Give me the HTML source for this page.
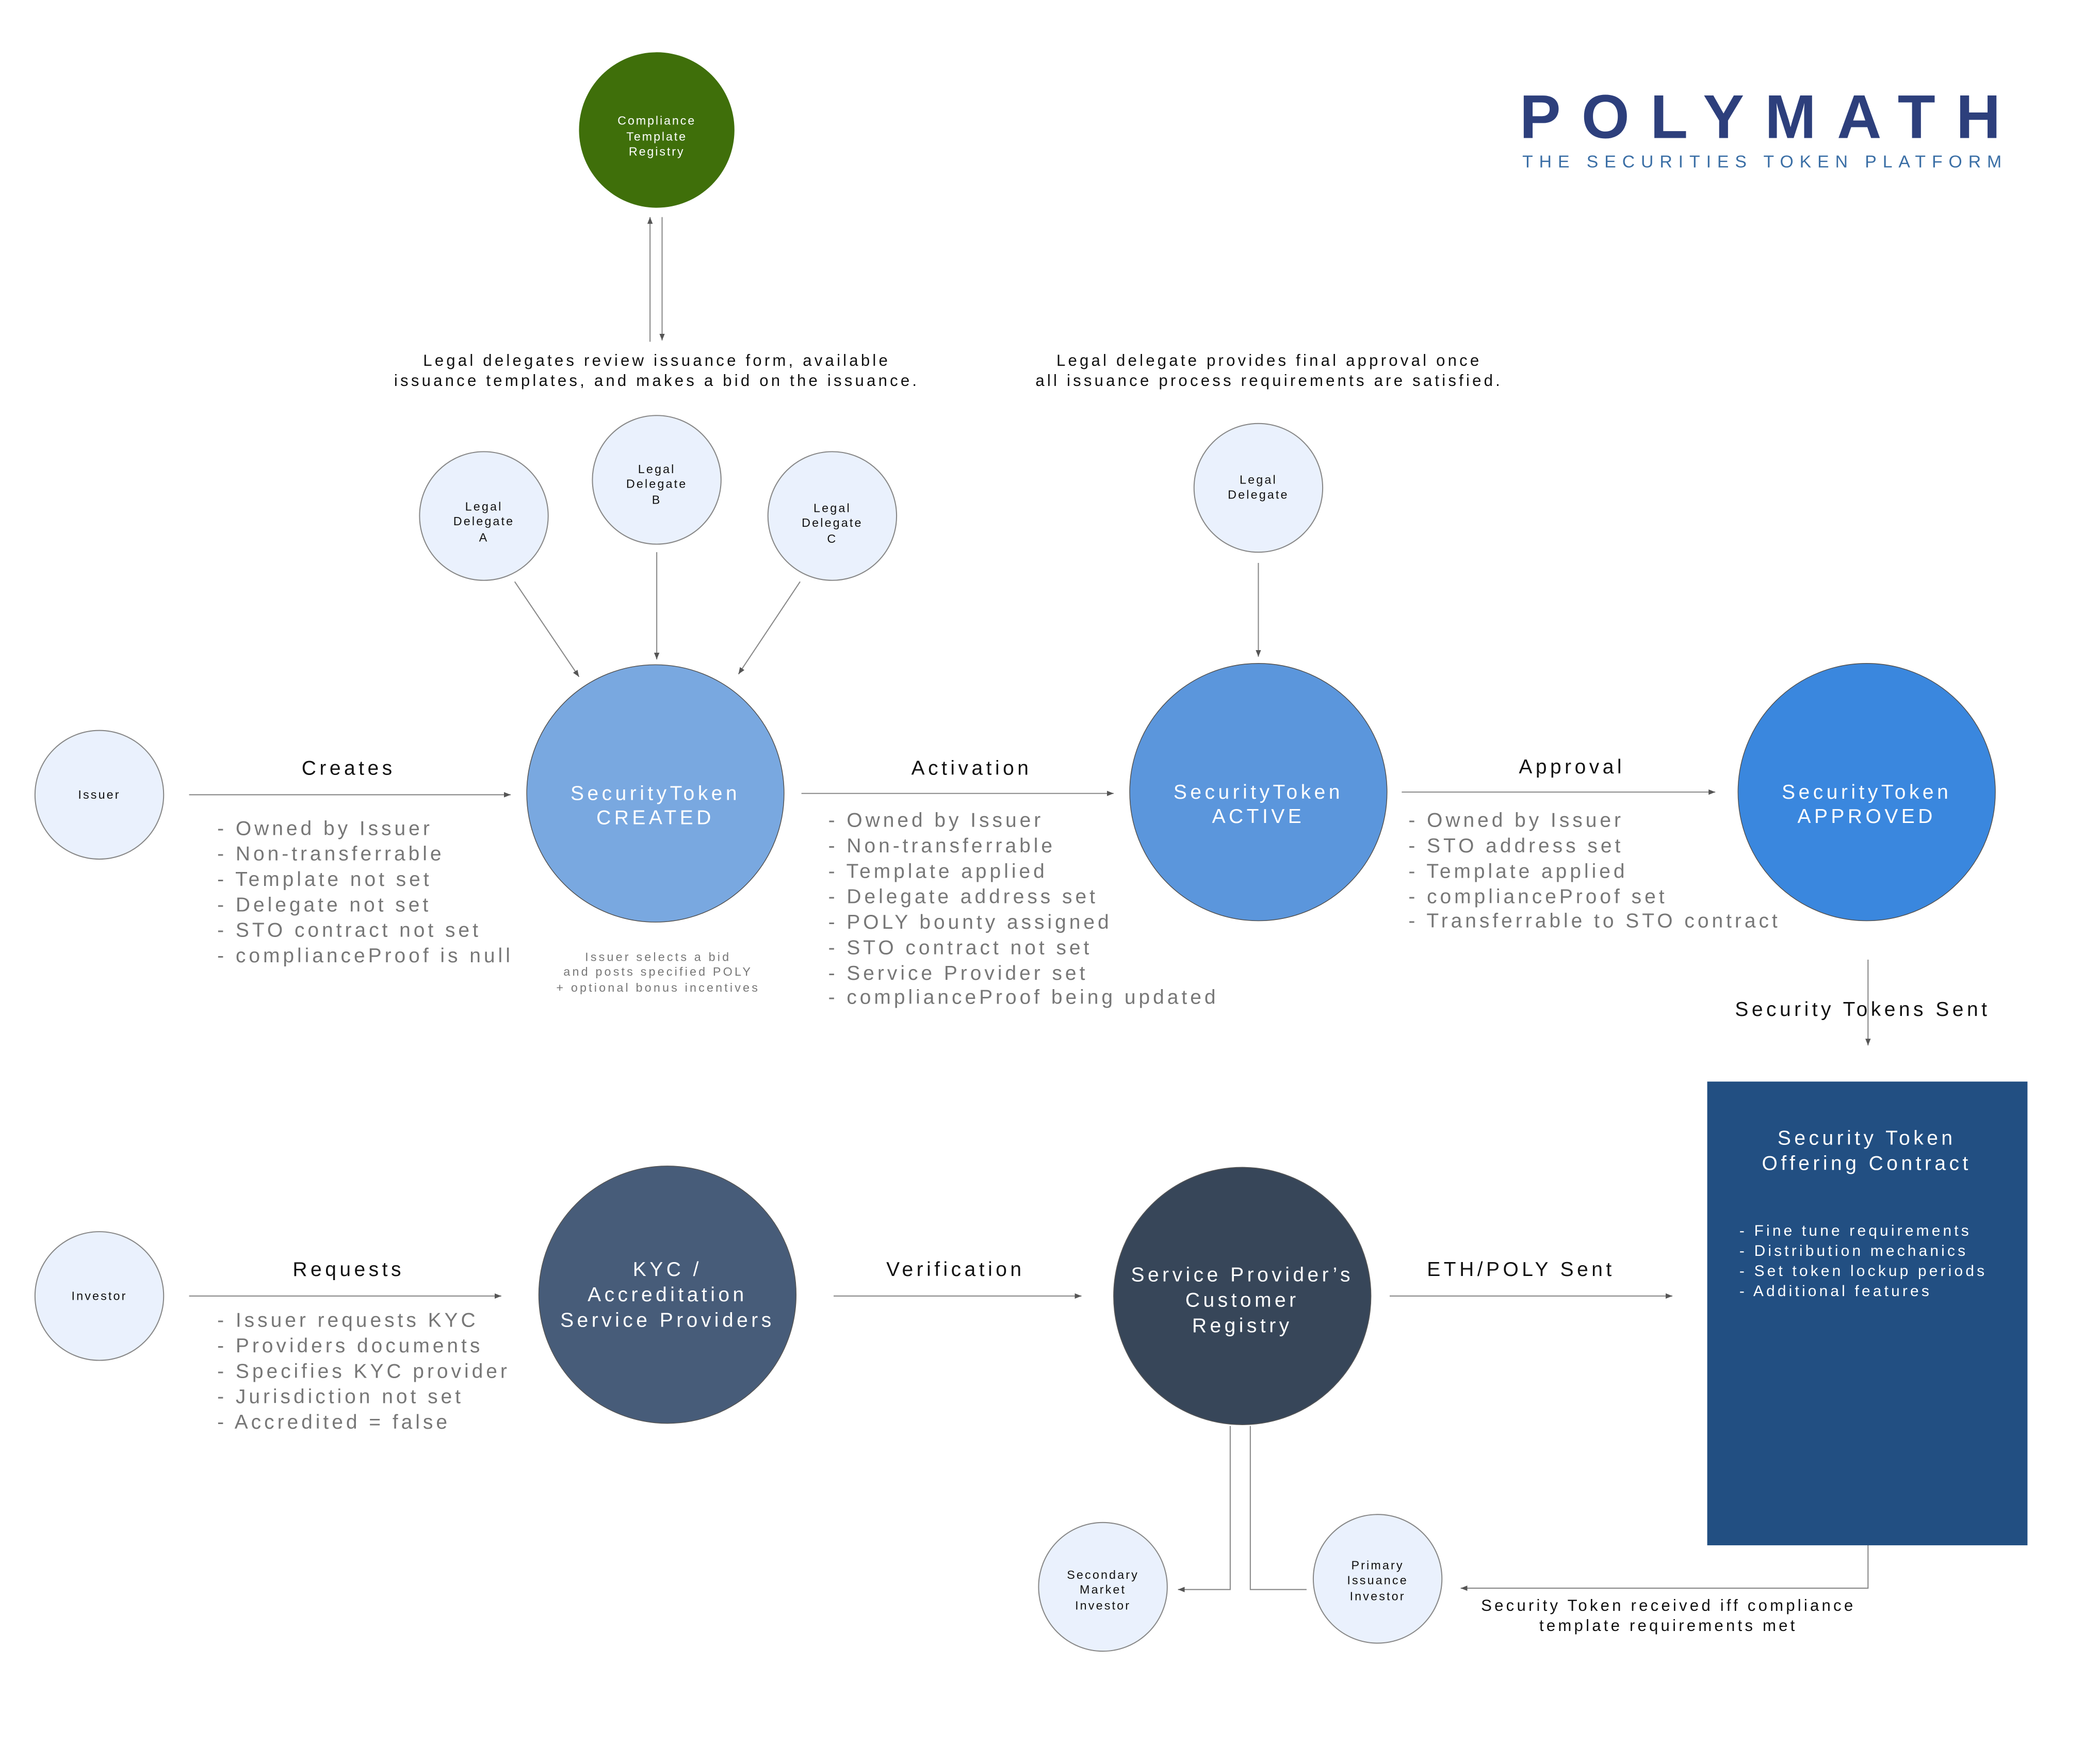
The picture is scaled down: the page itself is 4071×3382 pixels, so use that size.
<!DOCTYPE html>
<html><head><meta charset="utf-8"><style>
html,body{margin:0;padding:0;background:#fff;}
svg{display:block;}
text{font-family:"Liberation Sans",sans-serif;}
</style></head><body>
<svg width="4071" height="3382" viewBox="0 0 1567 1302" xmlns="http://www.w3.org/2000/svg">
<defs>
<marker id="a" markerWidth="6" markerHeight="6" refX="5" refY="3" orient="auto" markerUnits="userSpaceOnUse"><path d="M0,1 L5,3 L0,5 z" fill="#555"/></marker>
</defs>
<rect width="1567" height="1302" fill="#fff"/>
<!-- Logo -->
<text x="1134" y="103" font-size="46" font-weight="bold" fill="#2d3f7c" letter-spacing="15.5">POLYMATH</text>
<text x="1136" y="125" font-size="13" fill="#3a6ea5" letter-spacing="4.6">THE SECURITIES TOKEN PLATFORM</text>

<g stroke="#888" stroke-width="0.8" fill="none">
<line x1="485" y1="255" x2="485" y2="162" marker-end="url(#a)"/>
<line x1="494" y1="162" x2="494" y2="254" marker-end="url(#a)"/>
<line x1="384" y1="434" x2="432" y2="505" marker-end="url(#a)"/>
<line x1="490" y1="412" x2="490" y2="492" marker-end="url(#a)"/>
<line x1="597" y1="434" x2="551" y2="503" marker-end="url(#a)"/>
<line x1="939" y1="420" x2="939" y2="490" marker-end="url(#a)"/>
<line x1="141" y1="593" x2="381" y2="593" marker-end="url(#a)"/>
<line x1="598" y1="592" x2="831" y2="592" marker-end="url(#a)"/>
<line x1="1046" y1="591" x2="1280" y2="591" marker-end="url(#a)"/>
<line x1="1394" y1="716" x2="1394" y2="780" marker-end="url(#a)"/>
<line x1="141" y1="967" x2="374" y2="967" marker-end="url(#a)"/>
<line x1="622" y1="967" x2="807" y2="967" marker-end="url(#a)"/>
<line x1="1037" y1="967" x2="1248" y2="967" marker-end="url(#a)"/>
<polyline points="918,1064 918,1186 879,1186" marker-end="url(#a)"/>
<polyline points="933,1064 933,1186 975,1186"/>
<polyline points="1394,1153 1394,1185 1090,1185" marker-end="url(#a)"/>
</g>

<circle cx="490" cy="97" r="58" fill="#3f6f0a"/>
<g font-size="9" fill="#fff" text-anchor="middle" letter-spacing="1.1">
<text x="490" y="93">Compliance</text><text x="490" y="105">Template</text><text x="490" y="116">Registry</text></g>

<g font-size="12" fill="#111" text-anchor="middle" letter-spacing="2">
<text x="490" y="273">Legal delegates review issuance form, available</text>
<text x="490" y="288">issuance templates, and makes a bid on the issuance.</text>
<text x="947" y="273">Legal delegate provides final approval once</text>
<text x="947" y="288">all issuance process requirements are satisfied.</text>
</g>

<g fill="#eaf1fd" stroke="#888" stroke-width="0.8">
<circle cx="361" cy="385" r="48"/><circle cx="490" cy="358" r="48"/><circle cx="621" cy="385" r="48"/>
<circle cx="939" cy="364" r="48"/><circle cx="74" cy="593" r="48"/><circle cx="74" cy="967" r="48"/>
<circle cx="823" cy="1184" r="48"/><circle cx="1028" cy="1178" r="48"/>
</g>
<g font-size="9" fill="#111" text-anchor="middle" letter-spacing="1.2">
<text x="361" y="381">Legal</text><text x="361" y="392">Delegate</text><text x="361" y="404">A</text>
<text x="490" y="353">Legal</text><text x="490" y="364">Delegate</text><text x="490" y="376">B</text>
<text x="621" y="382">Legal</text><text x="621" y="393">Delegate</text><text x="621" y="405">C</text>
<text x="939" y="361">Legal</text><text x="939" y="372">Delegate</text>
<text x="74" y="596">Issuer</text><text x="74" y="970">Investor</text>
<text x="823" y="1178">Secondary</text><text x="823" y="1189">Market</text><text x="823" y="1201">Investor</text>
<text x="1028" y="1171">Primary</text><text x="1028" y="1182">Issuance</text><text x="1028" y="1194">Investor</text>
</g>

<g stroke="#555" stroke-width="0.6">
<circle cx="489" cy="592" r="96" fill="#79a8e0"/>
<circle cx="939" cy="591" r="96" fill="#5b96dc"/>
<circle cx="1393" cy="591" r="96" fill="#3a87de"/>
<circle cx="498" cy="966" r="96" fill="#475c79"/>
<circle cx="927" cy="967" r="96" fill="#374659"/>
</g>
<rect x="1274" y="807" width="239" height="346" fill="#224f82"/>

<g font-size="15" fill="#fff" text-anchor="middle" letter-spacing="2.5">
<text x="489" y="597">SecurityToken</text><text x="489" y="615">CREATED</text>
<text x="939" y="596">SecurityToken</text><text x="939" y="614">ACTIVE</text>
<text x="1393" y="596">SecurityToken</text><text x="1393" y="614">APPROVED</text>
<text x="498" y="952">KYC /</text><text x="498" y="971">Accreditation</text><text x="498" y="990">Service Providers</text>
<text x="927" y="956">Service Provider’s</text><text x="927" y="975">Customer</text><text x="927" y="994">Registry</text>
<text x="1393" y="854">Security Token</text><text x="1393" y="873">Offering Contract</text>
</g>
<g font-size="11.5" fill="#fff" letter-spacing="2">
<text x="1298" y="922">- Fine tune requirements</text><text x="1298" y="937">- Distribution mechanics</text>
<text x="1298" y="952">- Set token lockup periods</text><text x="1298" y="967">- Additional features</text>
</g>

<g font-size="15" fill="#111" text-anchor="middle" letter-spacing="2.5">
<text x="260" y="578">Creates</text><text x="725" y="578">Activation</text><text x="1173" y="577">Approval</text>
<text x="1390" y="758">Security Tokens Sent</text>
<text x="260" y="952">Requests</text><text x="713" y="952">Verification</text><text x="1135" y="952">ETH/POLY Sent</text>
</g>

<g font-size="15" fill="#777" letter-spacing="2.3">
<text x="162" y="623">- Owned by Issuer</text><text x="162" y="642">- Non-transferrable</text>
<text x="162" y="661">- Template not set</text><text x="162" y="680">- Delegate not set</text>
<text x="162" y="699">- STO contract not set</text><text x="162" y="718">- complianceProof is null</text>

<text x="618" y="617">- Owned by Issuer</text><text x="618" y="636">- Non-transferrable</text>
<text x="618" y="655">- Template applied</text><text x="618" y="674">- Delegate address set</text>
<text x="618" y="693">- POLY bounty assigned</text><text x="618" y="712">- STO contract not set</text>
<text x="618" y="731">- Service Provider set</text><text x="618" y="749">- complianceProof being updated</text>

<text x="1051" y="617">- Owned by Issuer</text><text x="1051" y="636">- STO address set</text>
<text x="1051" y="655">- Template applied</text><text x="1051" y="674">- complianceProof set</text>
<text x="1051" y="692">- Transferrable to STO contract</text>

<text x="162" y="990">- Issuer requests KYC</text><text x="162" y="1009">- Providers documents</text>
<text x="162" y="1028">- Specifies KYC provider</text><text x="162" y="1047">- Jurisdiction not set</text>
<text x="162" y="1066">- Accredited = false</text>
</g>

<g font-size="9" fill="#777" text-anchor="middle" letter-spacing="1.6">
<text x="491" y="717">Issuer selects a bid</text><text x="491" y="728">and posts specified POLY</text><text x="491" y="740">+ optional bonus incentives</text>
</g>
<g font-size="12" fill="#111" text-anchor="middle" letter-spacing="2">
<text x="1245" y="1202">Security Token received iff compliance</text>
<text x="1245" y="1217">template requirements met</text>
</g>
</svg>
</body></html>
